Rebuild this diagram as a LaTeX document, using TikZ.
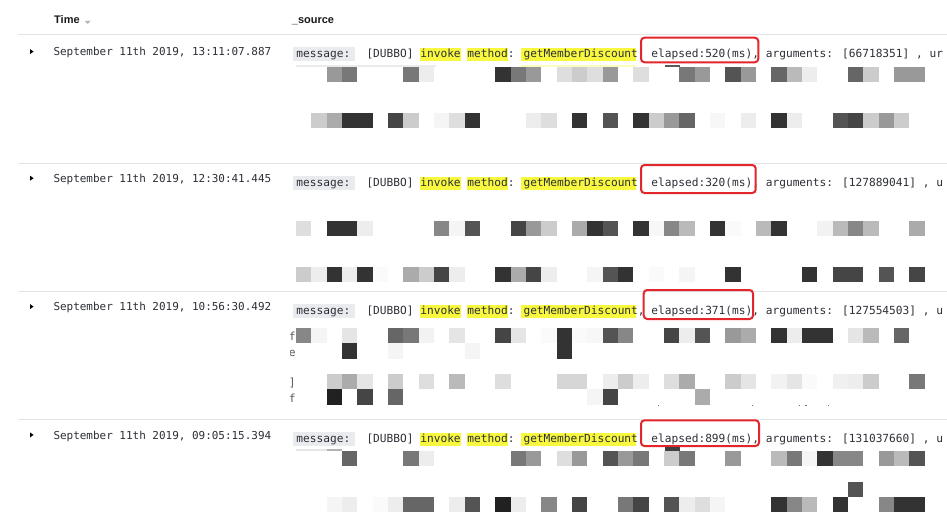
\documentclass[tikz,border=0pt]{standalone}
\usepackage{fontspec}
\newfontfamily\monof{DejaVu Sans Mono}
\newfontfamily\hdrf{Liberation Sans}
\definecolor{hl}{RGB}{248,248,62}
\definecolor{redbox}{RGB}{226,38,43}
\definecolor{lbl}{RGB}{233,235,238}
\definecolor{sep}{RGB}{224,227,232}
\definecolor{txt}{RGB}{45,47,55}
\newcommand\mycw{6.73}
\newcommand\myxo{366.3}
\newcommand\blk[3]{\fill[black!#3] ({296+15.33*#1},#2) rectangle ++(15.33,15.33);}
\newcommand\hlbox[3]{\fill[hl] ({\myxo+#2*\mycw-0.4},{#1-9.3}) rectangle ({\myxo+(#2+#3)*\mycw+0.4},{#1+3.8});}
\newcommand\logrow[5]{%
  \fill[black] (30,{#2-6.6}) -- (30,{#2-1.6}) -- (33.6,{#2-4.1}) -- cycle;
  \node[datetxt] (#1date) at (53.3,#2) {#3};
  \fill[lbl] (292.7,{#4-10.2}) rectangle (355,{#4+3.8});
  \node[msgtxt] (#1lbl) at (296.2,#4) {message:};
  \hlbox{#4}{8}{6}\hlbox{#4}{15}{6}\hlbox{#4}{23}{17}
  \node[msgtxt] (#1msg) at (\myxo,#4) {#5};
}
\tikzset{
  datetxt/.style={anchor=base west, inner sep=0pt, text=txt, font=\monof\fontsize{10.96}{13}\selectfont},
  msgtxt/.style={anchor=base west, inner sep=0pt, text=txt, font=\monof\fontsize{11.18}{13}\selectfont},
  hdrtxt/.style={anchor=base west, inner sep=0pt, text=black!90, font=\hdrf\bfseries\fontsize{11}{13}\selectfont},
  seprule/.style={draw=sep, line width=1pt},
  elbox/.style={draw=redbox, line width=2pt, rounded corners=3.5pt},
  edgech/.style={anchor=base west, inner sep=0pt, text=black!65, font=\monof\fontsize{11.18}{13}\selectfont}
}
\begin{document}
\begin{tikzpicture}[x=1pt,y=-1pt]
\useasboundingbox (0,0) rectangle (947,532);
\fill[white] (0,0) rectangle (947,532);

% header
\node[hdrtxt] (htime) at (54,24) {Time};
\fill[black!30] (85,21) -- (90.5,21) -- (87.75,24) -- cycle;
\node[hdrtxt] (hsource) at (291.7,24) {\_source};
\coordinate (l0a) at (18,35); \coordinate (l0b) at (947,35);
\draw[seprule] (l0a) -- (l0b);
\coordinate (l1a) at (18,163.3); \coordinate (l1b) at (947,163.3);
\draw[seprule] (l1a) -- (l1b);
\coordinate (l2a) at (18,291.7); \coordinate (l2b) at (947,291.7);
\draw[seprule] (l2a) -- (l2b);
\coordinate (l3a) at (18,419); \coordinate (l3b) at (947,419);
\draw[seprule] (l3a) -- (l3b);

% rows
\logrow{ra}{55.7}{September 11th 2019, 13:11:07.887}{57.7}{[DUBBO] invoke method: getMemberDiscount, elapsed:520(ms), arguments: [66718351] , ur}
\logrow{rb}{182.3}{September 11th 2019, 12:30:41.445}{186}{[DUBBO] invoke method: getMemberDiscount, elapsed:320(ms), arguments: [127889041] , u}
\logrow{rc}{310.7}{September 11th 2019, 10:56:30.492}{314.3}{[DUBBO] invoke method: getMemberDiscount, elapsed:371(ms), arguments: [127554503] , u}
\logrow{rd}{439}{September 11th 2019, 09:05:15.394}{442.3}{[DUBBO] invoke method: getMemberDiscount, elapsed:899(ms), arguments: [131037660] , u}

% red boxes
\draw[elbox] (641,37.7) rectangle (758.3,62.3);
\draw[elbox] (641,165) rectangle (755.7,193);
\draw[elbox] (643.7,290) rectangle (753,319);
\draw[elbox] (641,420.3) rectangle (759,446);

% faint remnants
\fill[black!8] (296,65.3) rectangle (436,66.8);
\fill[hl!35] (521,65.3) rectangle (636,66.8);
\fill[black!65] (664.5,64.8) rectangle (680,67);
\fill[black!10] (296,449) rectangle (327,451);
\fill[black!30] (327,449) rectangle (342,451);
\fill[black!75] (664.5,446.5) rectangle (679.5,451);

% row 1 mosaic
\foreach \c/\g in {2/40,3/53,7/53,8/7,13/80,14/53,15/40,17/13,18/20,19/13,20/40,22/13,25/53,26/40,28/67,29/40,31/60,32/27,33/7,36/60,37/20,39/40,40/40}{\blk{\c}{66.7}{\g}}
\foreach \c/\g in {1/20,2/33,3/80,4/80,6/73,7/20,9/4,10/13,11/80,15/7,16/13,18/80,20/67,22/80,23/20,24/40,25/60,27/3,29/7,31/80,32/7,35/67,36/73,37/20,38/40,39/20}{\blk{\c}{112.7}{\g}}

% row 2 mosaic
\foreach \c/\g in {0/13,2/80,3/80,4/7,9/47,10/4,11/67,14/73,15/40,16/20,18/33,19/80,20/67,22/80,23/3,24/47,25/27,27/80,28/2,30/27,31/80,34/5,35/27,36/47,37/27,40/33}{\blk{\c}{220.7}{\g}}
\foreach \c/\g in {0/20,1/7,2/80,3/7,4/80,5/2,7/33,8/20,9/73,10/7,13/80,14/33,15/73,16/7,19/4,20/67,21/80,23/2,25/4,28/80,33/80,35/73,36/73,38/67,40/73}{\blk{\c}{266.7}{\g}}

% row 3 mosaic
\foreach \c/\g in {0/47,1/4,3/10,6/60,7/53,8/5,10/10,13/73,14/10,16/2,17/80,18/2,19/3,20/67,21/47,24/73,25/7,26/67,28/40,29/33,31/80,32/7,33/80,34/80,36/10,37/27,39/60}{\blk{\c}{328}{\g}}
\foreach \c/\g in {3/80,6/4,11/4,17/80}{\blk{\c}{343.3}{\g}}
\foreach \c/\g in {2/20,3/33,4/10,6/20,8/13,10/27,13/13,17/16,18/16,20/7,21/20,22/7,24/13,25/33,28/20,29/10,31/5,32/10,33/2,35/6,36/7,37/20,40/53}{\blk{\c}{374}{\g}}
\foreach \c/\g in {2/87,4/73,6/60,19/4,20/73,26/33}{\blk{\c}{389.3}{\g}}
\foreach \x in {657.8,752,799,805.3,827.5}{\fill[black!55] (\x,404.5) rectangle ++(1.2,1.8);}
\begin{scope}
\clip (290,325) rectangle (296,410);
\node[edgech] (ch1) at (288.6,340) {f};
\node[edgech] (ch2) at (288.6,356.5) {e};
\node[edgech] (ch3) at (288.6,386) {]};
\node[edgech] (ch4) at (288.6,402) {f};
\end{scope}

% row 4 mosaic
\foreach \c/\g in {3/60,7/53,8/7,14/53,15/40,17/13,18/40,20/67,21/40,22/53,24/20,25/53,28/40,31/27,32/53,33/4,34/80,35/47,36/47,38/40,39/27,40/67}{\blk{\c}{451}{\g}}
\blk{36}{481.7}{67}
\foreach \c/\g in {2/4,3/7,5/2,6/7,7/60,8/60,10/7,11/67,13/87,14/7,16/47,18/73,21/53,22/73,24/67,25/7,26/13,27/4,31/80,32/47,33/27,35/80,38/47,39/80,40/80}{\blk{\c}{497}{\g}}
\end{tikzpicture}
\end{document}
